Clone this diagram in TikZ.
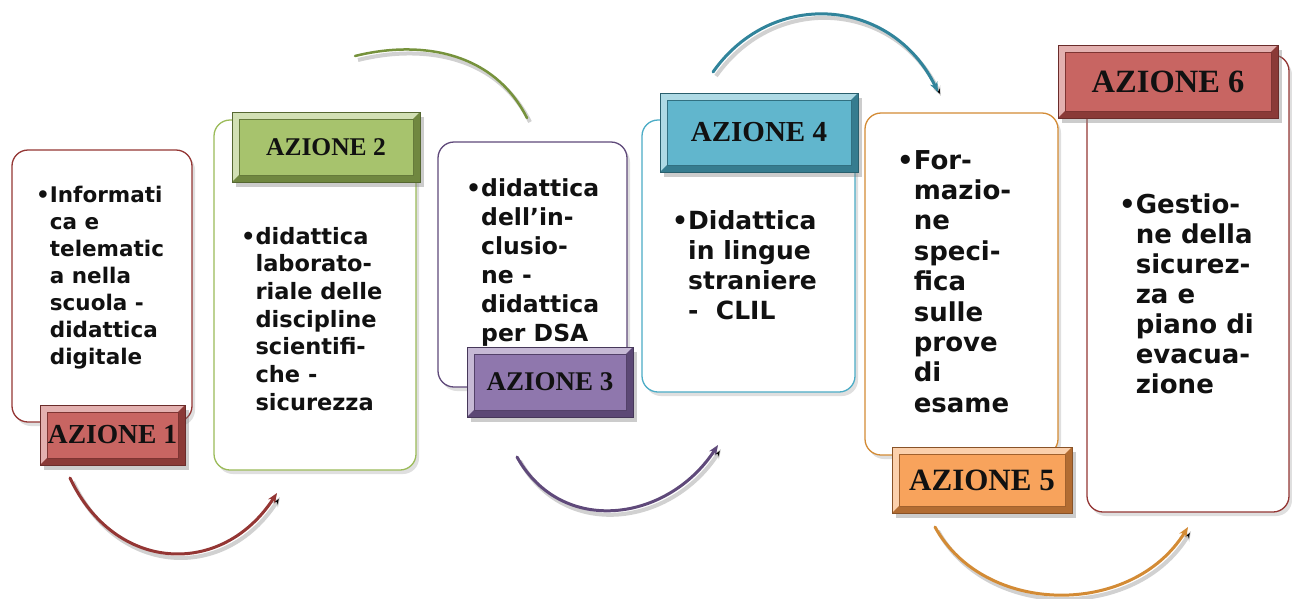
\documentclass[tikz,border=0pt]{standalone}
\usepackage{fontspec}
\setmainfont{DejaVu Sans}
\newfontfamily\tnr{Liberation Serif}
\usetikzlibrary{arrows.meta,shadows}
\definecolor{cRed}{HTML}{C0504D}
\definecolor{cRedD}{HTML}{943634}
\definecolor{cGreen}{HTML}{9BBB59}
\definecolor{cOlive}{HTML}{76923C}
\definecolor{cPurple}{HTML}{8064A2}
\definecolor{cPurpleD}{HTML}{5F497A}
\definecolor{cTeal}{HTML}{4BACC6}
\definecolor{cTealD}{HTML}{31849B}
\definecolor{cOrange}{HTML}{F79646}
\definecolor{cOrangeD}{HTML}{D38B35}
\definecolor{txtc}{HTML}{111111}
\tikzset{
  tbox/.style={rectangle, rounded corners=16pt, draw=#1, line width=1.3pt, fill=white,
    drop shadow={shadow xshift=3pt, shadow yshift=-4pt, opacity=0.25}},
  azl/.style={rectangle, inner sep=0pt, fill=#1!88!white, draw=#1!55!black, line width=0.8pt, text=txtc,
    drop shadow={shadow xshift=4pt, shadow yshift=-5pt, opacity=0.4},
    path picture={
      \fill[#1!45!white] (path picture bounding box.north west) -- (path picture bounding box.north east)
        -- ([shift={(-7pt,-7pt)}]path picture bounding box.north east)
        -- ([shift={(7pt,-7pt)}]path picture bounding box.north west)
        -- ([shift={(7pt,7pt)}]path picture bounding box.south west)
        -- (path picture bounding box.south west) -- cycle;
      \fill[#1!72!black] (path picture bounding box.south east) -- (path picture bounding box.south west)
        -- ([shift={(7pt,7pt)}]path picture bounding box.south west)
        -- ([shift={(-7pt,7pt)}]path picture bounding box.south east)
        -- ([shift={(-7pt,-7pt)}]path picture bounding box.north east)
        -- (path picture bounding box.north east) -- cycle;
      \draw[#1!65!black, line width=0.8pt] ([shift={(7pt,-7pt)}]path picture bounding box.north west)
        rectangle ([shift={(-7pt,7pt)}]path picture bounding box.south east);
    }},
  btxt/.style={anchor=base west, inner sep=0pt, text=txtc, align=left},
  arcline/.style={draw=#1, line width=3pt, line cap=round,
    preaction={draw=black, draw opacity=0.18, line width=4pt, transform canvas={xshift=3pt,yshift=-4pt}}},
  tip/.style={-{Stealth[length=10pt,width=8pt]}}
}
\begin{document}
\begin{tikzpicture}[x=1pt,y=-1pt]
\fill[white] (0,0) rectangle (1292,598);
\useasboundingbox (0,0) rectangle (1292,598);

% text boxes
\node[tbox=cRedD, minimum width=180pt, minimum height=272pt] (b1) at (102,286) {};
\node[tbox=cGreen, minimum width=202pt, minimum height=350pt] (b2) at (315,295) {};
\node[tbox=cPurpleD, minimum width=189pt, minimum height=245pt] (b3) at (532.5,264.5) {};
\node[tbox=cTeal, minimum width=213pt, minimum height=272pt] (b4) at (748.5,256) {};
\node[tbox=cOrangeD, minimum width=193pt, minimum height=342pt] (b5) at (961.5,284) {};
\node[tbox=cRedD, minimum width=202pt, minimum height=457pt] (b6) at (1188,283.5) {};

% texts
\node[btxt, font=\bfseries\fontsize{21.5}{27}\selectfont] (t1) at (36,202)
  {\begin{tabular}[t]{@{}l@{}l@{}}•&Informati\\&ca e\\&telematic\\&a nella\\&scuola -\\&didattica\\&digitale\end{tabular}};
\node[btxt, font=\bfseries\fontsize{22.5}{27.7}\selectfont] (t2) at (241,244)
  {\begin{tabular}[t]{@{}l@{}l@{}}•&didattica\\&laborato-\\&riale delle\\&discipline\\&scientifi-\\&che -\\&sicurezza\end{tabular}};
\node[btxt, font=\bfseries\fontsize{23.5}{29}\selectfont] (t3) at (466,196)
  {\begin{tabular}[t]{@{}l@{}l@{}}•&didattica\\&dell’in-\\&clusio-\\&ne -\\&didattica\\&per DSA\end{tabular}};
\node[btxt, font=\bfseries\fontsize{25}{30}\selectfont] (t4) at (672,229)
  {\begin{tabular}[t]{@{}l@{}l@{}}•&Didattica\\&in lingue\\&straniere\\&-~~CLIL\end{tabular}};
\node[btxt, font=\bfseries\fontsize{26}{30.4}\selectfont] (t5) at (897,169)
  {\begin{tabular}[t]{@{}l@{}l@{}}•&For-\\&mazio-\\&ne\\&speci-\\&fica\\&sulle\\&prove\\&di\\&esame\end{tabular}};
\node[btxt, font=\bfseries\fontsize{26}{30}\selectfont] (t6) at (1119,213)
  {\begin{tabular}[t]{@{}l@{}l@{}}•&Gestio-\\&ne della\\&sicurez-\\&za e\\&piano di\\&evacua-\\&zione\end{tabular}};

% labels
\node[azl=cRed, minimum width=145pt, minimum height=60pt, font=\tnr\bfseries\fontsize{27.5}{30}\selectfont] (l1) at (112.5,435) {AZIONE 1};
\node[azl=cGreen, minimum width=188pt, minimum height=70pt, font=\tnr\bfseries\fontsize{25.5}{30}\selectfont] (l2) at (326,147) {AZIONE 2};
\node[azl=cPurple, minimum width=166pt, minimum height=70pt, font=\tnr\bfseries\fontsize{27}{30}\selectfont] (l3) at (550,382) {AZIONE 3};
\node[azl=cTeal, minimum width=198pt, minimum height=79pt, font=\tnr\bfseries\fontsize{29}{32}\selectfont] (l4) at (759,132.5) {AZIONE 4};
\node[azl=cOrange, minimum width=180pt, minimum height=66pt, font=\tnr\bfseries\fontsize{31}{34}\selectfont] (l5) at (982,480) {AZIONE 5};
\node[azl=cRed, minimum width=220pt, minimum height=73pt, font=\tnr\bfseries\fontsize{32.5}{35}\selectfont] (l6) at (1168,81.5) {AZIONE 6};

% curved arrows
\coordinate (a1s) at (70,478);  \coordinate (a1e) at (277,493);
\coordinate (a2s) at (355,56);  \coordinate (a2e) at (527,118);
\coordinate (a3s) at (517,457); \coordinate (a3e) at (718,445);
\coordinate (a4s) at (713,72);  \coordinate (a4e) at (938,92);
\coordinate (a5s) at (935,527); \coordinate (a5e) at (1188,527);
\draw[arcline=cRedD, tip] (a1s) .. controls +(45,95) and +(-55,85) .. (a1e);
\draw[arcline=cOlive, line width=2.5pt] (a2s) .. controls +(60,-15) and +(-35,-70) .. (a2e);
\draw[arcline=cPurpleD, tip] (a3s) .. controls +(45,80) and +(-50,77) .. (a3e);
\draw[arcline=cTealD, tip] (a4s) .. controls +(60,-85) and +(-45,-94) .. (a4e);
\draw[arcline=cOrangeD, tip] (a5s) .. controls +(50,90) and +(-55,90) .. (a5e);
\end{tikzpicture}
\end{document}
